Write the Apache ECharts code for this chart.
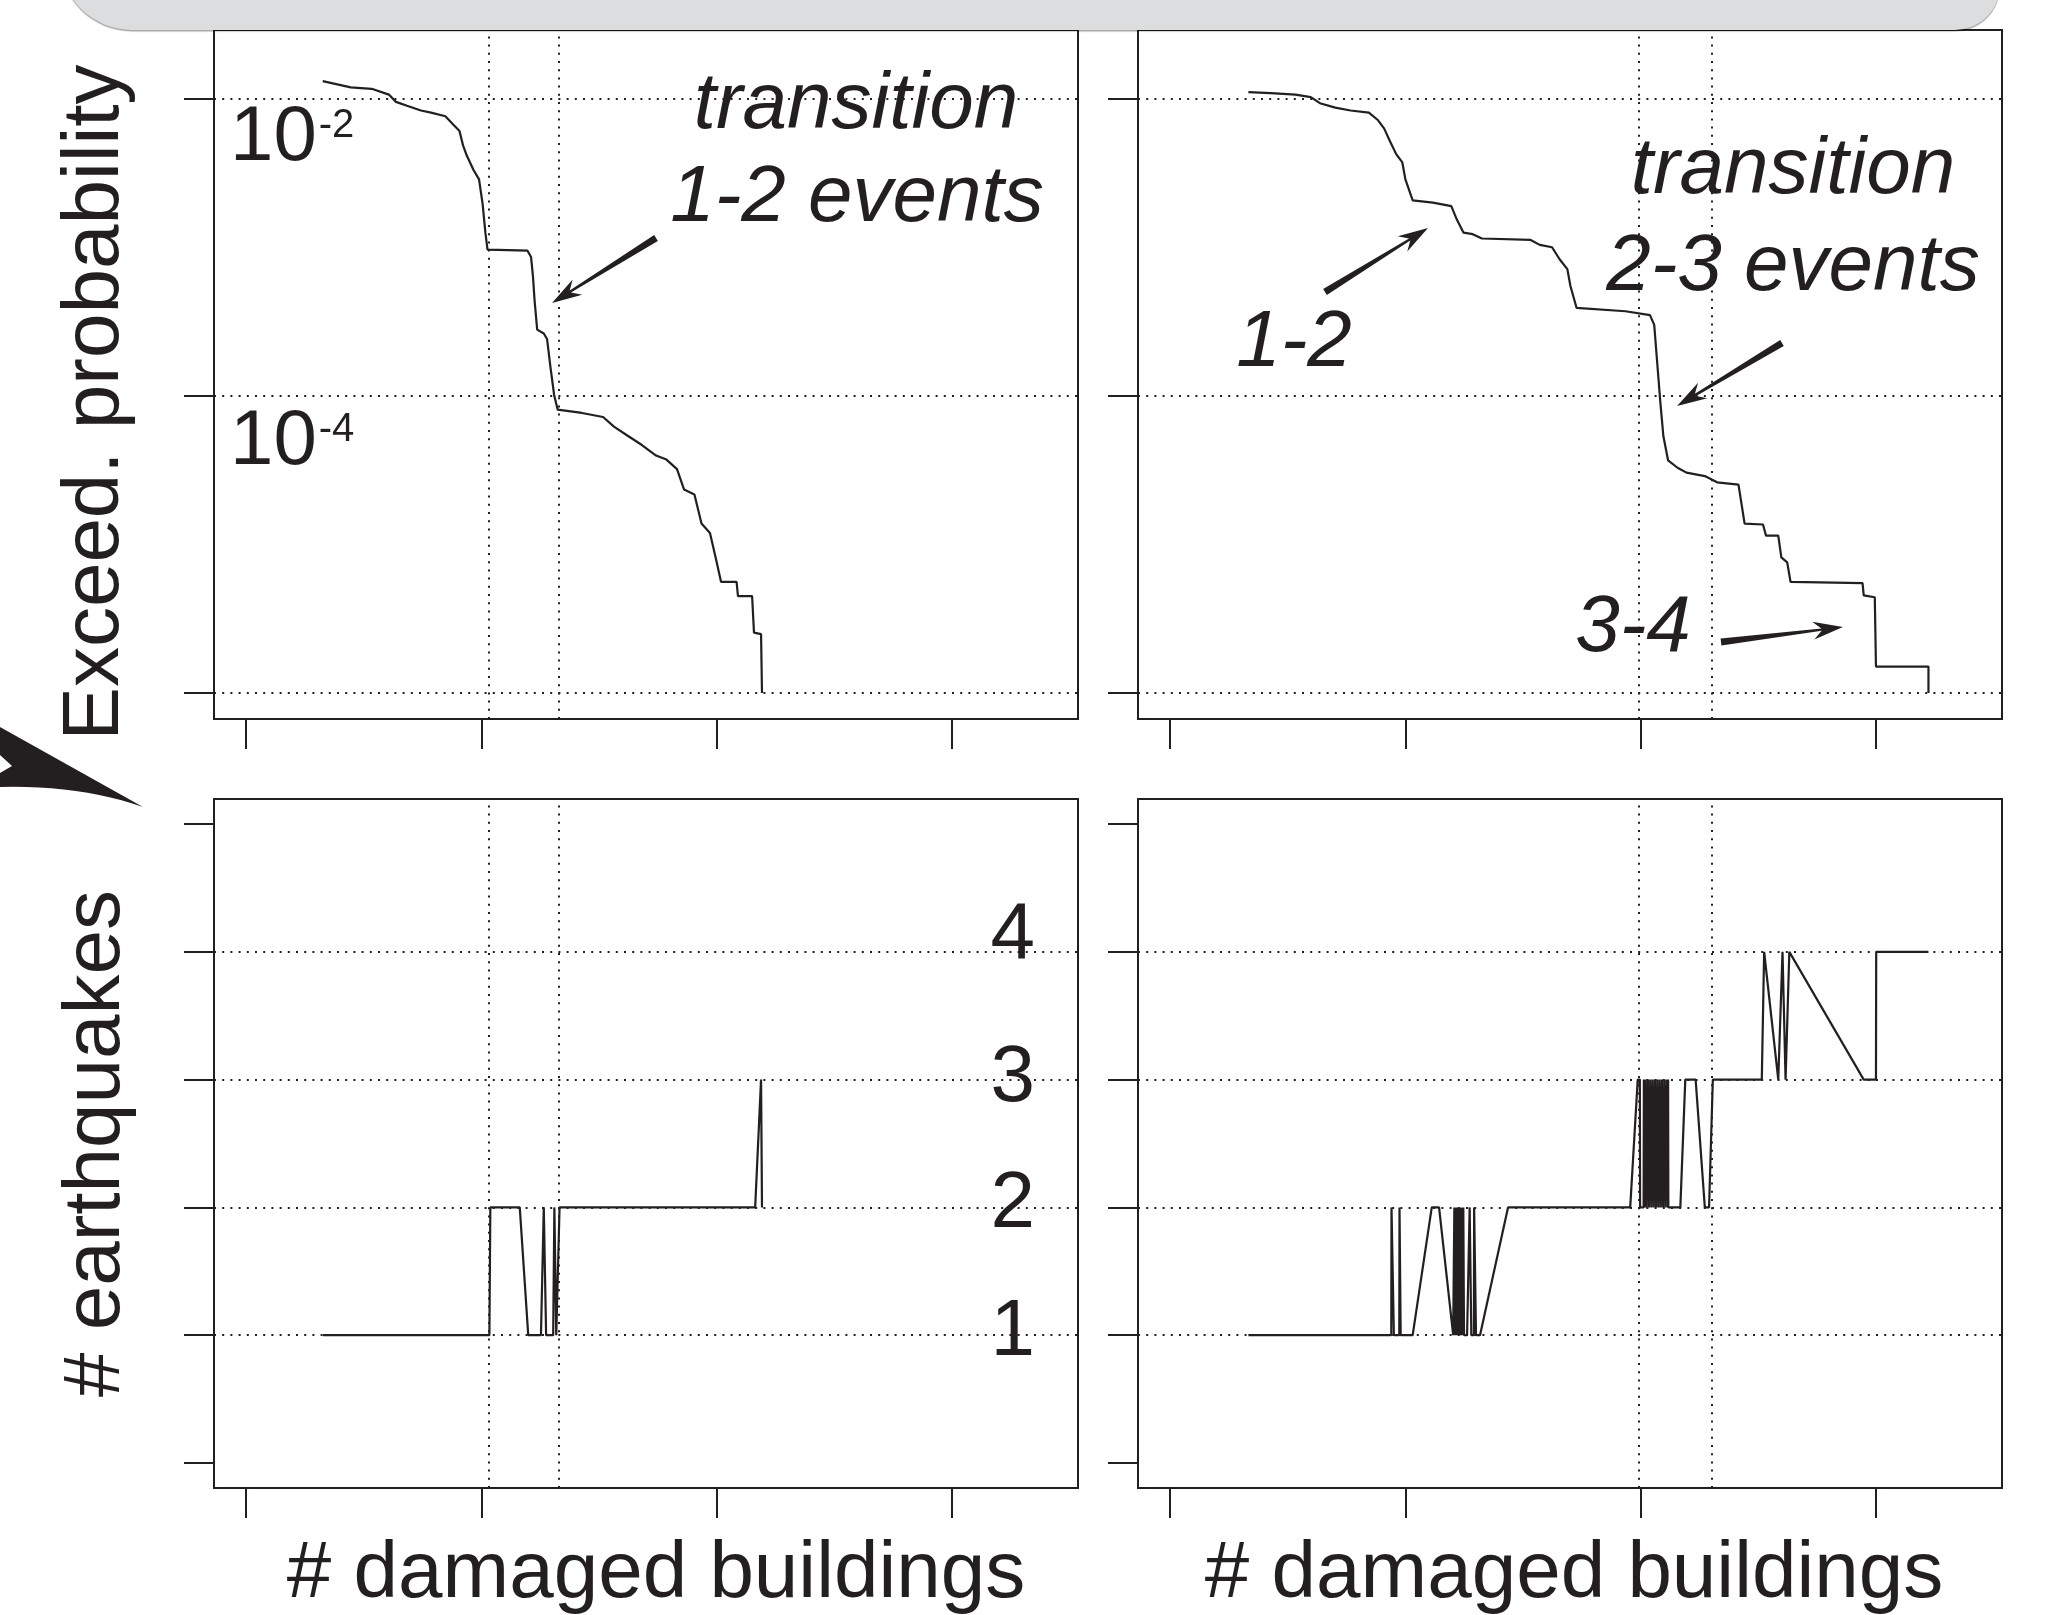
<!DOCTYPE html>
<html><head><meta charset="utf-8">
<script src="https://cdn.jsdelivr.net/npm/echarts@6/dist/echarts.min.js"></script>
<style>html,body{margin:0;padding:0;background:#fff}#c{width:2058px;height:1615px}</style>
</head><body><div id="c"></div>
<script>
// ---------------- data (x = log10 # damaged buildings) ----------------
const xTicks = [0, 1, 2, 3];
const probTicks = [-6, -4, -2];          // log10 exceedance probability
const probLabels = [-4, -2];
const probGrid = [-6, -4, -2];
const countTicks = [0, 1, 2, 3, 4, 5];
const countLabels = [1, 2, 3, 4];
const countGrid = [1, 2, 3, 4];
const transitionsLeft = [1.026, 1.327];
const transitionsRight = [1.985, 2.30];

const exceedLeft = [[0.326,-1.879],[0.445,-1.921],[0.534,-1.931],[0.607,-1.970],[0.637,-2.019],[0.684,-2.045],[0.743,-2.077],[0.786,-2.091],[0.847,-2.116],[0.877,-2.166],[0.907,-2.215],[0.922,-2.312],[0.937,-2.377],[0.966,-2.476],[0.990,-2.541],[1.005,-2.704],[1.017,-2.900],[1.026,-3.014],[1.196,-3.021],[1.211,-3.064],[1.219,-3.192],[1.226,-3.357],[1.237,-3.553],[1.265,-3.579],[1.279,-3.616],[1.294,-3.814],[1.309,-3.993],[1.324,-4.092],[1.427,-4.114],[1.517,-4.141],[1.563,-4.206],[1.623,-4.269],[1.682,-4.330],[1.742,-4.401],[1.786,-4.428],[1.831,-4.492],[1.861,-4.630],[1.905,-4.663],[1.935,-4.859],[1.971,-4.923],[1.995,-5.087],[2.018,-5.251],[2.084,-5.251],[2.090,-5.347],[2.150,-5.347],[2.158,-5.593],[2.188,-5.603],[2.192,-6.000]];

const exceedRight = [[0.333,-1.954],[0.429,-1.960],[0.533,-1.970],[0.598,-1.987],[0.637,-2.028],[0.702,-2.058],[0.767,-2.077],[0.845,-2.091],[0.884,-2.143],[0.910,-2.199],[0.935,-2.286],[0.961,-2.371],[0.987,-2.427],[1.000,-2.541],[1.031,-2.682],[1.117,-2.698],[1.195,-2.721],[1.216,-2.802],[1.247,-2.900],[1.286,-2.910],[1.325,-2.939],[1.532,-2.949],[1.571,-2.982],[1.623,-2.998],[1.655,-3.079],[1.688,-3.145],[1.701,-3.259],[1.727,-3.406],[1.935,-3.429],[2.039,-3.455],[2.057,-3.521],[2.070,-3.781],[2.083,-4.043],[2.096,-4.271],[2.116,-4.434],[2.156,-4.483],[2.194,-4.516],[2.272,-4.539],[2.324,-4.581],[2.415,-4.597],[2.428,-4.728],[2.441,-4.859],[2.519,-4.865],[2.532,-4.940],[2.584,-4.940],[2.597,-5.087],[2.622,-5.120],[2.636,-5.251],[2.942,-5.260],[2.947,-5.342],[2.994,-5.355],[2.999,-5.822],[3.222,-5.822],[3.222,-6.000]];

const quakesLeft = [[0.327,1],[1.034,1],[1.038,2],[1.163,2],[1.199,1],[1.253,1],[1.265,2],[1.275,1],[1.305,1],[1.310,2],[1.318,1],[1.326,1],[1.332,2],[2.163,2],[2.188,3],[2.192,2]];

const quakesRight = [[0.333,1],[0.940,1],[0.941,2],[0.949,2],[0.951,1],[0.974,1],[0.975,2],[0.980,1],[1.031,1],[1.112,2],[1.143,2],[1.203,1],[1.208,2],[1.211,1],[1.215,2],[1.218,1],[1.222,2],[1.226,1],[1.230,2],[1.234,1],[1.238,2],[1.242,1],[1.246,2],[1.249,1],[1.262,1],[1.273,2],[1.280,1],[1.291,1],[1.292,2],[1.300,1],[1.317,1],[1.436,2],[1.955,2],[1.987,3],[1.996,3],[1.997,2],[2.012,2],[2.013,3],[2.016,3],[2.018,2],[2.020,3],[2.025,2],[2.030,3],[2.035,2],[2.040,3],[2.045,2],[2.050,3],[2.055,2],[2.060,3],[2.065,2],[2.070,3],[2.075,2],[2.080,3],[2.085,2],[2.090,3],[2.095,2],[2.100,3],[2.105,2],[2.110,3],[2.115,2],[2.116,3],[2.117,2],[2.168,2],[2.189,3],[2.233,3],[2.272,2],[2.290,2],[2.306,3],[2.514,3],[2.524,4],[2.584,3],[2.602,4],[2.615,3],[2.631,4],[2.947,3],[2.999,3],[3.000,4],[3.222,4]];

// ---------------- styling ----------------
const FONT = "'Liberation Sans', Arial, Helvetica, sans-serif";
const INK = '#231f20';
const X_MIN = -0.1359, X_MAX = 3.5344;
const P_MIN = -6.175, P_MAX = -1.535;
const C_MIN = -0.196, C_MAX = 5.196;

const boxes = [
  {left: 214, top: 30}, {left: 1138, top: 30},
  {left: 214, top: 799}, {left: 1138, top: 799}
];
const grid = boxes.map(b => ({left: b.left, top: b.top, width: 864, height: 689,
  outerBoundsMode: 'none', containLabel: false,
  show: true, borderColor: INK, borderWidth: 2, backgroundColor: 'rgba(0,0,0,0)'}));

const tick = (vals) => ({show: true, customValues: vals, length: 30, inside: false,
  lineStyle: {color: INK, width: 2}});
const noLine = {show: false, onZero: false};

const xAxis = [0,1,2,3].map(i => ({
  type: 'value', gridIndex: i, min: X_MIN, max: X_MAX,
  axisLine: noLine, axisTick: tick(xTicks), axisLabel: {show: false}, splitLine: {show: false},
  name: i >= 2 ? '# damaged buildings' : '', nameLocation: 'middle', nameGap: 47,
  nameTextStyle: {fontSize: 80, fontFamily: FONT, color: INK, padding: i === 2 ? [0, 0, 0, 20] : [0, 0, 0, 8]}
}));

const supLabel = {
  show: true, inside: true, customValues: probLabels, margin: 16, verticalAlign: 'top',
  formatter: v => '{b' + (-v) + '|10}{s' + (-v) + '|' + v + '}',
  rich: {
    b2: {fontSize: 78, fontFamily: FONT, color: INK, lineHeight: 78},
    s2: {fontSize: 40, fontFamily: FONT, color: INK, lineHeight: 40, verticalAlign: 'top', padding: [7, 0, 0, 2]},
    b4: {fontSize: 78, fontFamily: FONT, color: INK, lineHeight: 92},
    s4: {fontSize: 40, fontFamily: FONT, color: INK, lineHeight: 40, verticalAlign: 'top', padding: [14, 0, 0, 2]}
  }
};

const countLabel = {
  show: true, inside: true, customValues: countLabels, margin: 43, verticalAlign: 'bottom',
  formatter: v => '{c' + v + '|' + v + '}',
  rich: {
    c1: {fontSize: 80, fontFamily: FONT, color: INK, lineHeight: 4},
    c2: {fontSize: 80, fontFamily: FONT, color: INK, lineHeight: 4},
    c3: {fontSize: 80, fontFamily: FONT, color: INK, lineHeight: 2},
    c4: {fontSize: 80, fontFamily: FONT, color: INK, lineHeight: 32}
  }
};

const yAxis = [
  {type: 'value', gridIndex: 0, min: P_MIN, max: P_MAX, axisLine: noLine, axisTick: tick(probTicks),
   axisLabel: supLabel, splitLine: {show: false},
   name: 'Exceed. probability', nameLocation: 'middle', nameRotate: 90, nameGap: 78,
   nameTextStyle: {fontSize: 80, fontFamily: FONT, color: INK, padding: [0, 56, 0, 0]}},
  {type: 'value', gridIndex: 1, min: P_MIN, max: P_MAX, axisLine: noLine, axisTick: tick(probTicks),
   axisLabel: {show: false}, splitLine: {show: false}},
  {type: 'value', gridIndex: 2, min: C_MIN, max: C_MAX, axisLine: noLine, axisTick: tick(countTicks),
   axisLabel: {show: false}, splitLine: {show: false},
   name: '# earthquakes', nameLocation: 'middle', nameRotate: 90, nameGap: 77,
   nameTextStyle: {fontSize: 80, fontFamily: FONT, color: INK}},
  {type: 'value', gridIndex: 3, min: C_MIN, max: C_MAX, axisLine: noLine, axisTick: tick(countTicks),
   axisLabel: {show: false}, splitLine: {show: false}},
  {type: 'value', gridIndex: 2, position: 'right', min: C_MIN, max: C_MAX, axisLine: noLine,
   axisTick: {show: false}, splitLine: {show: false}, axisLabel: countLabel}
];

function curve(xi, yi, data, gridVals, trans) {
  return {
    type: 'line', xAxisIndex: xi, yAxisIndex: yi, data: data, showSymbol: false, symbol: 'none',
    lineStyle: {color: INK, width: 2.2}, silent: true, z: 3, animation: false,
    markLine: {
      silent: true, symbol: ['none', 'none'], label: {show: false}, animation: false,
      lineStyle: {type: [2, 6.2], width: 2, color: INK}, emphasis: {disabled: true},
      data: trans.map(v => ({xAxis: v})).concat(gridVals.map(v => ({yAxis: v})))
    }
  };
}

const series = [
  curve(0, 0, exceedLeft, probGrid, transitionsLeft),
  curve(1, 1, exceedRight, probGrid, transitionsRight),
  curve(2, 2, quakesLeft, countGrid, transitionsLeft),
  curve(3, 3, quakesRight, countGrid, transitionsRight)
];

// ---------------- annotation shapes ----------------
function arrowPts(tail, tip, wTail, wNeck, headLen, headHalf) {
  const dx = tip[0] - tail[0], dy = tip[1] - tail[1];
  const len = Math.hypot(dx, dy), ux = dx / len, uy = dy / len, nx = -uy, ny = ux;
  const neck = [tip[0] - ux * headLen * 0.72, tip[1] - uy * headLen * 0.72];
  const base = [tip[0] - ux * headLen, tip[1] - uy * headLen];
  return [
    [tail[0] + nx * wTail / 2, tail[1] + ny * wTail / 2],
    [neck[0] + nx * wNeck / 2, neck[1] + ny * wNeck / 2],
    [base[0] + nx * headHalf, base[1] + ny * headHalf],
    tip,
    [base[0] - nx * headHalf, base[1] - ny * headHalf],
    [neck[0] - nx * wNeck / 2, neck[1] - ny * wNeck / 2],
    [tail[0] - nx * wTail / 2, tail[1] - ny * wTail / 2]
  ];
}
function bigHead() {
  const pts = [[143, 807], [0, 727], [0, 755], [12, 766], [0, 773], [0, 787]];
  const p0 = [0, 787], c = [80, 785], p1 = [143, 807];
  for (let k = 1; k <= 12; k++) {
    const t = k / 12, a = (1 - t) * (1 - t), b = 2 * t * (1 - t), d = t * t;
    pts.push([a * p0[0] + b * c[0] + d * p1[0], a * p0[1] + b * c[1] + d * p1[1]]);
  }
  return pts;
}
const arrows = [
  [[656, 238], [552, 303]],
  [[1325, 292], [1428, 228]],
  [[1782, 343], [1677, 406]],
  [[1721, 642], [1843, 627]]
];
const labelTxt = (text, x, y) => ({type: 'text', x: x, y: y, z: 50, silent: true,
  style: {text: text, fill: INK, fontSize: 80, fontFamily: FONT, fontStyle: 'italic',
    align: 'center', verticalAlign: 'middle'}});

const graphic = [
  {type: 'rect', z: 100, silent: true, shape: {x: 60, y: -150, width: 1940, height: 180, r: [0, 0, 45, 72]},
   style: {fill: '#dcdddf', shadowColor: 'rgba(0,0,0,0.35)', shadowOffsetY: 1.5, shadowBlur: 1}},
  {type: 'polygon', z: 50, silent: true, shape: {points: bigHead()}, style: {fill: INK}},
  labelTxt('transition', 856, 106), labelTxt('1-2 events', 857, 199),
  labelTxt('transition', 1793, 171), labelTxt('2-3 events', 1793, 268),
  labelTxt('1-2', 1294, 344), labelTxt('3-4', 1633, 629)
].concat(arrows.map(a => ({type: 'polygon', z: 50, silent: true,
  shape: {points: arrowPts(a[0], a[1], 7, 2.4, 30, 9)}, style: {fill: INK}})));

const chart = echarts.init(document.getElementById('c'), null, {renderer: 'canvas'});
chart.setOption({animation: false, backgroundColor: '#fff', grid, xAxis, yAxis, series, graphic});
</script></body></html>
